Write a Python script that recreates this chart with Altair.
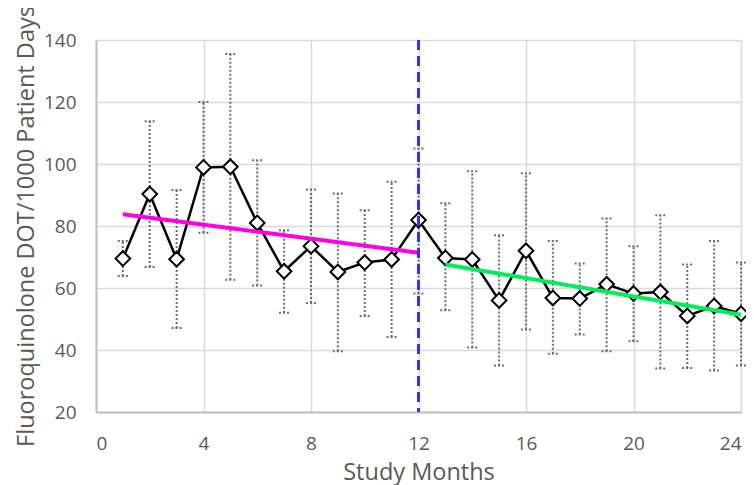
import altair as alt
import pandas as pd

months = list(range(1, 25))
dot_rate = [69.5, 90.3, 69.3, 98.9, 99.1, 81.0, 65.4, 73.5, 65.2, 68.2, 69.2, 81.9,
            69.7, 69.2, 56.0, 72.0, 56.8, 56.6, 61.2, 58.2, 58.7, 51.0, 54.2, 51.7]
upper = [75.2, 113.8, 91.6, 120.0, 135.5, 101.2, 78.6, 91.8, 90.5, 85.1, 94.3, 105.0,
         87.3, 97.7, 77.0, 97.0, 75.2, 67.9, 82.4, 73.5, 83.5, 67.6, 75.2, 68.2]
lower = [63.9, 66.8, 47.1, 77.8, 62.7, 60.8, 52.0, 55.2, 39.6, 51.0, 44.2, 58.2,
         52.8, 40.8, 35.0, 46.6, 38.8, 45.0, 39.6, 42.8, 34.0, 34.2, 33.4, 35.0]

pre_trend_x = [1, 12]
pre_trend_y = [83.8, 71.4]
post_trend_x = [13, 24]
post_trend_y = [67.6, 51.4]
intervention_month = [12]

df = pd.DataFrame({"month": months, "rate": dot_rate, "upper": upper, "lower": lower})
pre = pd.DataFrame({"month": pre_trend_x, "rate": pre_trend_y})
post = pd.DataFrame({"month": post_trend_x, "rate": post_trend_y})
vline = pd.DataFrame({"month": intervention_month})

FONT = "Open Sans"
xscale = alt.Scale(domain=[0, 24], nice=False)
yscale = alt.Scale(domain=[20, 140], nice=False)

xaxis = alt.Axis(values=[0, 4, 8, 12, 16, 20, 24], title="Study Months", grid=True,
                 gridColor="#d9d9d9", gridWidth=1.5, domainColor="#bfbfbf", domainWidth=2,
                 ticks=False, labelPadding=22, labelFontSize=19, labelColor="#595959",
                 labelFont=FONT, titleFont=FONT, titleFontSize=23.5, titleFontWeight="normal",
                 titleColor="#595959", titlePadding=7)
yaxis = alt.Axis(values=[20, 40, 60, 80, 100, 120, 140],
                 title="Fluoroquinolone DOT/1000 Patient Days", grid=True,
                 gridColor="#d9d9d9", gridWidth=1.5, domainColor="#bfbfbf", domainWidth=2,
                 ticks=False, labelPadding=20, labelFontSize=19, labelColor="#595959",
                 labelFont=FONT, titleFont=FONT, titleFontSize=23.5, titleFontWeight="normal",
                 titleColor="#595959", titlePadding=5)

base = alt.Chart(df)

err = base.mark_rule(color="#6d6d6d", strokeWidth=2, strokeDash=[2, 2]).encode(
    x=alt.X("month:Q", scale=xscale, axis=xaxis),
    y=alt.Y("lower:Q", scale=yscale, axis=yaxis),
    y2="upper:Q",
)
cap_up = base.transform_calculate(a="datum.month - 0.19", b="datum.month + 0.19").mark_rule(
    color="#6d6d6d", strokeWidth=2, strokeDash=[2, 2]).encode(
    x=alt.X("a:Q", scale=xscale), x2="b:Q", y=alt.Y("upper:Q", scale=yscale))
cap_lo = base.transform_calculate(a="datum.month - 0.19", b="datum.month + 0.19").mark_rule(
    color="#6d6d6d", strokeWidth=2, strokeDash=[2, 2]).encode(
    x=alt.X("a:Q", scale=xscale), x2="b:Q", y=alt.Y("lower:Q", scale=yscale))

line = base.mark_line(color="black", strokeWidth=2.5).encode(
    x=alt.X("month:Q", scale=xscale), y=alt.Y("rate:Q", scale=yscale))
pts = base.mark_point(shape="diamond", filled=True, fill="white", stroke="black",
                      strokeWidth=2, size=215, opacity=1).encode(
    x=alt.X("month:Q", scale=xscale), y=alt.Y("rate:Q", scale=yscale))

pre_line = alt.Chart(pre).mark_line(color="#ff00e6", strokeWidth=4).encode(
    x=alt.X("month:Q", scale=xscale), y=alt.Y("rate:Q", scale=yscale))
post_line = alt.Chart(post).mark_line(color="#00ee5a", strokeWidth=4).encode(
    x=alt.X("month:Q", scale=xscale), y=alt.Y("rate:Q", scale=yscale))

vrule = alt.Chart(vline).mark_rule(color="#3333ff", strokeWidth=3, strokeDash=[10, 6]).encode(
    x=alt.X("month:Q", scale=xscale))

chart = alt.layer(err, cap_up, cap_lo, line, pts, pre_line, post_line, vrule).properties(
    width=645, height=372,
    autosize=alt.AutoSizeParams(type="none"),
    padding={"left": 88, "top": 32, "right": 5, "bottom": 80},
).configure_view(stroke=None)

chart.save("out.html", embed_options={"renderer": "svg", "actions": False})
